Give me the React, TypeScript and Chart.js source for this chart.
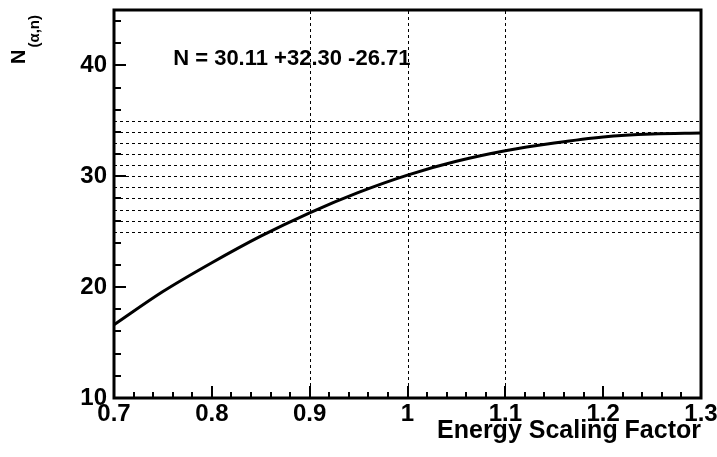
import React, { useEffect, useRef } from "react";
import { Chart, registerables } from "chart.js";

Chart.register(...registerables);

// Curve: N vs energy scaling factor
const scalingFactors = [0.7, 0.75, 0.8, 0.85, 0.9, 0.95, 1.0, 1.05, 1.1, 1.15, 1.2, 1.25, 1.3];
const nValues = [16.6, 19.6, 22.2, 24.6, 26.71, 28.55, 30.11, 31.35, 32.3, 33.0, 33.55, 33.82, 33.9];

// Dotted reference levels and markers
const levelLines = [25, 26, 27, 28, 29, 30, 31, 32, 33, 34, 35];
const markerLines = [0.9, 1.0, 1.1];

const xRange = [0.7, 1.3];
const yRange = [10, 45];
const annotationText = "N = 30.11 +32.30 -26.71";
const xTitle = "Energy Scaling Factor";

const FONT = "'Liberation Sans', Arial, Helvetica, sans-serif";

const rootFramePlugin = {
  id: "rootFrame",
  beforeDatasetsDraw(chart: any) {
    const { ctx, chartArea } = chart;
    const xs = chart.scales.x;
    const ys = chart.scales.y;
    const { left, right, top, bottom } = chartArea;
    ctx.save();
    ctx.strokeStyle = "#000";
    ctx.lineWidth = 1;
    ctx.setLineDash([3, 3]);
    ctx.beginPath();
    for (const v of levelLines) {
      const py = Math.round(ys.getPixelForValue(v)) + 0.5;
      ctx.moveTo(left, py);
      ctx.lineTo(right, py);
    }
    for (const m of markerLines) {
      const px = Math.round(xs.getPixelForValue(m)) + 0.5;
      ctx.moveTo(px, bottom);
      ctx.lineTo(px, top);
    }
    ctx.stroke();
    ctx.restore();
  },
  afterDatasetsDraw(chart: any) {
    const { ctx, chartArea } = chart;
    const xs = chart.scales.x;
    const ys = chart.scales.y;
    const { left, right, top, bottom } = chartArea;
    ctx.save();
    ctx.strokeStyle = "#000";
    ctx.lineCap = "butt";
    // ticks
    ctx.lineWidth = 2;
    ctx.beginPath();
    for (let v = yRange[0]; v <= yRange[1] + 1e-9; v += 2) {
      const py = Math.round(ys.getPixelForValue(v));
      const major = Math.abs(v / 10 - Math.round(v / 10)) < 1e-6;
      ctx.moveTo(left, py);
      ctx.lineTo(left + (major ? 12 : 7), py);
    }
    for (let i = 0; ; i++) {
      const v = xRange[0] + i * 0.02;
      if (v > xRange[1] + 1e-9) break;
      const px = Math.round(xs.getPixelForValue(v));
      const major = i % 5 === 0;
      ctx.moveTo(px, bottom);
      ctx.lineTo(px, bottom - (major ? 12 : 6));
    }
    ctx.stroke();
    // frame
    ctx.lineWidth = 3;
    ctx.strokeRect(left, top, right - left, bottom - top);

    // annotation text
    ctx.fillStyle = "#000";
    ctx.font = `bold 22px ${FONT}`;
    ctx.textAlign = "left";
    ctx.textBaseline = "alphabetic";
    ctx.fillText(annotationText, xs.getPixelForValue(0.7605), ys.getPixelForValue(40));

    // y title N_(alpha,n), rotated
    ctx.translate(25, 64);
    ctx.rotate(-Math.PI / 2);
    ctx.font = `bold 20px ${FONT}`;
    ctx.fillText("N", 0, 0);
    const nW = ctx.measureText("N").width;
    ctx.font = `bold 15px ${FONT}`;
    ctx.fillText("(\u03b1,n)", nW + 2, 14);
    ctx.restore();
  },
};

export default function App() {
  const ref = useRef<HTMLCanvasElement | null>(null);
  useEffect(() => {
    if (!ref.current) return;
    const curve = scalingFactors.map((x, i) => ({ x, y: nValues[i] }));
    const datasets: any[] = [
      {
        label: "N",
        data: curve,
        borderColor: "#000",
        borderWidth: 3,
        pointRadius: 0,
        fill: false,
        cubicInterpolationMode: "monotone",
      },
    ];
    const chart = new Chart(ref.current, {
      type: "line",
      data: { datasets },
      plugins: [rootFramePlugin],
      options: {
        animation: false,
        responsive: false,
        devicePixelRatio: 1,
        layout: { padding: { left: 0, top: 10, right: 16, bottom: 0 } },
        plugins: { legend: { display: false }, tooltip: { enabled: false } },
        scales: {
          x: {
            type: "linear",
            min: xRange[0],
            max: xRange[1],
            grid: { display: false, drawTicks: false },
            border: { display: false },
            ticks: {
              stepSize: 0.1,
              autoSkip: false,
              maxRotation: 0,
              padding: 2,
              color: "#000",
              font: { family: FONT, size: 24, weight: "bold" },
              callback: (v: any) => String(Math.round(Number(v) * 10) / 10),
            },
            title: {
              display: true,
              text: xTitle,
              align: "end",
              color: "#000",
              font: { family: FONT, size: 25, weight: "bold", lineHeight: 1 },
              padding: { top: 0, bottom: 13 },
            },
            afterFit: (s: any) => {
              s.height = 59;
              s.paddingLeft = 0;
              s.paddingRight = 0;
            },
          },
          y: {
            type: "linear",
            min: yRange[0],
            max: yRange[1],
            grid: { display: false, drawTicks: false },
            border: { display: false },
            ticks: {
              stepSize: 10,
              includeBounds: false,
              padding: 7,
              color: "#000",
              font: { family: FONT, size: 24, weight: "bold" },
            },
            afterFit: (s: any) => {
              s.width = 114;
              s.paddingTop = 0;
              s.paddingBottom = 0;
            },
          },
        },
      } as any,
    });
    return () => chart.destroy();
  }, []);
  return (
    <div style={{ position: "absolute", left: 0, top: 0, width: 717, height: 457, background: "#fff" }}>
      <canvas ref={ref} width={717} height={457} style={{ width: 717, height: 457, display: "block" }} />
    </div>
  );
}
